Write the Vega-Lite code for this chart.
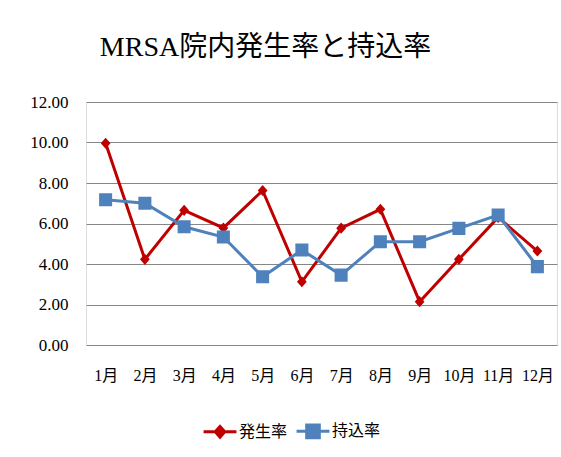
{
  "$schema": "https://vega.github.io/schema/vega-lite/v6.json",
  "width": 471,
  "height": 243,
  "autosize": "none",
  "padding": {"left": 86, "top": 102, "right": 4, "bottom": 112},
  "background": "white",
  "title": {
    "text": "MRSA院内発生率と持込率",
    "font": "Liberation Serif, Noto Sans CJK JP",
    "fontSize": 28,
    "fontWeight": "normal",
    "color": "#000000",
    "anchor": "middle",
    "dx": -56,
    "offset": 31
  },
  "config": {
    "legend": {
      "orient": "none",
      "legendX": 126,
      "legendY": 321,
      "direction": "horizontal",
      "labelFont": "Noto Sans CJK JP",
      "labelFontSize": 16,
      "labelColor": "#000000",
      "symbolSize": 160,
      "symbolStrokeWidth": 3,
      "columnPadding": 2,
      "labelOffset": 11
    }
  },
  "data": {
    "values": [
      {"month": "1月", "series": "発生率", "value": 9.96},
      {"month": "2月", "series": "発生率", "value": 4.23},
      {"month": "3月", "series": "発生率", "value": 6.65},
      {"month": "4月", "series": "発生率", "value": 5.78},
      {"month": "5月", "series": "発生率", "value": 7.63},
      {"month": "6月", "series": "発生率", "value": 3.12},
      {"month": "7月", "series": "発生率", "value": 5.77},
      {"month": "8月", "series": "発生率", "value": 6.70},
      {"month": "9月", "series": "発生率", "value": 2.14},
      {"month": "10月", "series": "発生率", "value": 4.23},
      {"month": "11月", "series": "発生率", "value": 6.30},
      {"month": "12月", "series": "発生率", "value": 4.64},
      {"month": "1月", "series": "持込率", "value": 7.17},
      {"month": "2月", "series": "持込率", "value": 7.00},
      {"month": "3月", "series": "持込率", "value": 5.84},
      {"month": "4月", "series": "持込率", "value": 5.33},
      {"month": "5月", "series": "持込率", "value": 3.37},
      {"month": "6月", "series": "持込率", "value": 4.69},
      {"month": "7月", "series": "持込率", "value": 3.45},
      {"month": "8月", "series": "持込率", "value": 5.10},
      {"month": "9月", "series": "持込率", "value": 5.10},
      {"month": "10月", "series": "持込率", "value": 5.76},
      {"month": "11月", "series": "持込率", "value": 6.42},
      {"month": "12月", "series": "持込率", "value": 3.87}
    ]
  },
  "encoding": {
    "x": {
      "field": "month",
      "type": "nominal",
      "sort": null,
      "scale": {"type": "point", "padding": 0.5},
      "axis": {
        "title": null,
        "labelAngle": 0,
        "labelFont": "Liberation Serif, Noto Sans CJK JP",
        "labelFontSize": 16,
        "labelColor": "#000000",
        "labelPadding": 22,
        "ticks": false,
        "domain": false,
        "grid": false
      }
    },
    "y": {
      "field": "value",
      "type": "quantitative",
      "scale": {"domain": [0, 12], "nice": false, "zero": true},
      "axis": {
        "title": null,
        "values": [0, 2, 4, 6, 8, 10, 12],
        "format": ".2f",
        "labelFont": "Liberation Serif",
        "labelFontSize": 17,
        "labelColor": "#000000",
        "labelPadding": 18,
        "ticks": false,
        "domain": false,
        "grid": true,
        "gridColor": "#868686",
        "gridWidth": 1
      }
    }
  },
  "layer": [
    {
      "mark": {"type": "line", "strokeWidth": 3},
      "encoding": {
        "stroke": {
          "field": "series",
          "type": "nominal",
          "scale": {"domain": ["発生率", "持込率"], "range": ["#C00000", "#4F81BD"]},
          "legend": {"title": null}
        }
      }
    },
    {
      "mark": {"type": "point", "filled": true, "opacity": 1, "size": 170, "strokeWidth": 0},
      "encoding": {
        "fill": {
          "field": "series",
          "type": "nominal",
          "scale": {"domain": ["発生率", "持込率"], "range": ["#C00000", "#4F81BD"]},
          "legend": {"title": null}
        },
        "stroke": {
          "field": "series",
          "type": "nominal",
          "legend": {"title": null}
        },
        "shape": {
          "field": "series",
          "type": "nominal",
          "scale": {
            "domain": ["発生率", "持込率"],
            "range": [
              "M-2.6,0L2.6,0M0,-0.85L0.75,0L0,0.85L-0.75,0Z",
              "M-2.6,0L2.6,0M-1,-1L1,-1L1,1L-1,1Z"
            ]
          },
          "legend": {"title": null}
        }
      }
    }
  ]
}
